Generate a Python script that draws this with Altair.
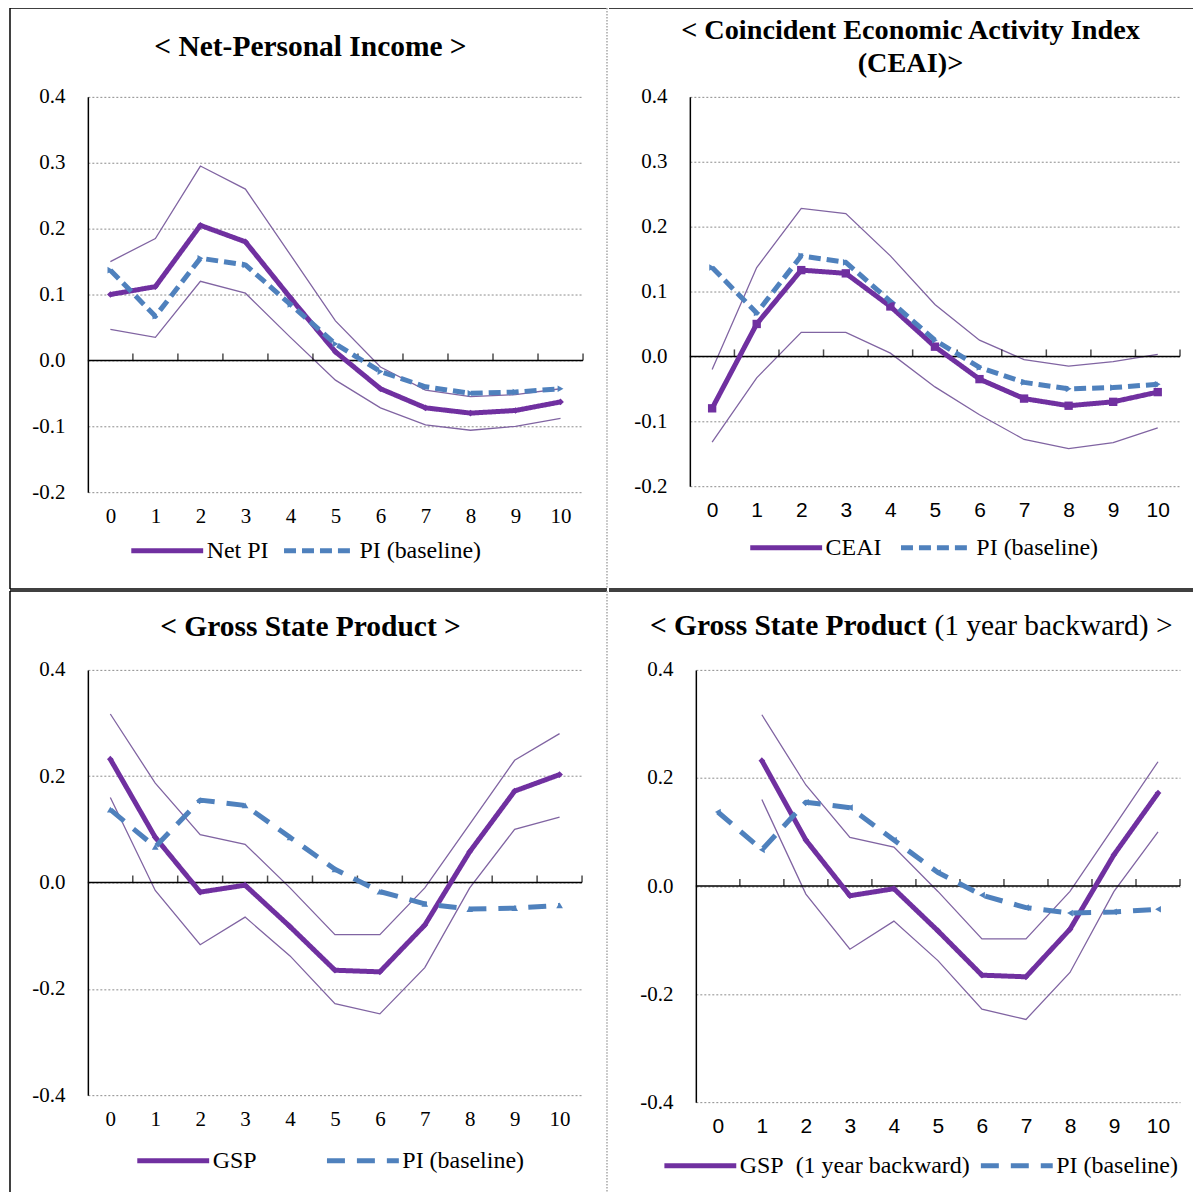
import altair as alt
import pandas as pd

# horizon after the shock
steps = list(range(11))
zero_ticks = [0.5, 1.5, 2.5, 3.5, 4.5, 5.5, 6.5, 7.5, 8.5, 9.5, 10.5]
ticks_small = [-0.2, -0.1, 0.0, 0.1, 0.2, 0.3, 0.4]
ticks_big = [-0.4, -0.2, 0.0, 0.2, 0.4]

# PI (baseline) response, same in every panel
pi_base = [0.137, 0.067, 0.155, 0.145, 0.085, 0.025, -0.017, -0.040, -0.050, -0.048, -0.043]

# Net-Personal Income
netpi = [0.100, 0.112, 0.205, 0.180, 0.095, 0.013, -0.043, -0.072, -0.080, -0.076, -0.063]
netpi_hi = [0.150, 0.185, 0.295, 0.260, 0.160, 0.060, -0.010, -0.045, -0.055, -0.052, -0.043]
netpi_lo = [0.047, 0.035, 0.120, 0.102, 0.035, -0.030, -0.072, -0.098, -0.106, -0.100, -0.088]

# Coincident Economic Activity Index
ceai = [-0.080, 0.050, 0.133, 0.128, 0.077, 0.015, -0.035, -0.065, -0.076, -0.070, -0.055]
ceai_hi = [-0.020, 0.137, 0.228, 0.220, 0.155, 0.080, 0.025, -0.005, -0.015, -0.008, 0.003]
ceai_lo = [-0.132, -0.033, 0.037, 0.037, 0.005, -0.047, -0.090, -0.128, -0.142, -0.133, -0.110]

# Gross State Product
gsp = [0.232, 0.085, -0.018, -0.005, -0.083, -0.165, -0.168, -0.080, 0.058, 0.172, 0.203]
gsp_hi = [0.317, 0.187, 0.090, 0.072, -0.010, -0.098, -0.098, -0.010, 0.110, 0.230, 0.280]
gsp_lo = [0.160, -0.015, -0.117, -0.065, -0.138, -0.228, -0.247, -0.160, -0.010, 0.100, 0.123]

# GSP moved one year back (starts at horizon 1)
back_steps = steps[1:]
gsp_back = gsp[:10]
gsp_back_hi = gsp_hi[:10]
gsp_back_lo = gsp_lo[:10]

PURPLE = "#7030A0"
BAND = "#8064A2"
BLUE = "#4F81BD"
SERIF = "Liberation Serif"
SANS = "Liberation Sans"
PI_NAME = "PI (baseline)"

one = pd.DataFrame({"k": [0]})


def hline(x1, x2, y, color="black", dash=None):
    kw = dict(color=color, strokeWidth=1.5)
    if dash:
        kw["strokeDash"] = dash
    return alt.Chart(one).mark_rule(**kw).encode(
        x=alt.value(x1), x2=alt.value(x2), y=alt.value(y))


def vline(x, y1, y2, color="black", dash=None):
    kw = dict(color=color, strokeWidth=1.5)
    if dash:
        kw["strokeDash"] = dash
    return alt.Chart(one).mark_rule(**kw).encode(
        x=alt.value(x), y=alt.value(y1), y2=alt.value(y2))


def label(text, x, y, align="center", bold=True, size=29.5):
    kw = dict(text=text, font=SERIF, fontSize=size, align=align, baseline="middle", color="black")
    if bold:
        kw["fontWeight"] = "bold"
    return alt.Chart(one).mark_text(**kw).encode(x=alt.value(x), y=alt.value(y))


def panel(x, mid, hi, lo, name, mid_shape, mid_size, pi_shape, dash,
          ylim, yvals, w, h, extra, tick_font, lx, ly, col_pad):
    X = alt.X("step:Q", scale=alt.Scale(domain=[-0.5, 10.5], nice=False, zero=False),
              axis=alt.Axis(values=steps, format="d", title=None, grid=False, domain=False,
                            ticks=False, labelFont=tick_font, labelFontSize=21,
                            labelColor="black", labelPadding=13, labelFlush=False))
    Y = alt.Y("value:Q", scale=alt.Scale(domain=ylim, nice=False, zero=False),
              axis=alt.Axis(values=yvals, title=None, grid=True, gridDash=[2, 2],
                            gridColor="#8c8c8c", gridWidth=1, domainColor="black",
                            domainWidth=1.5, ticks=False, labelFont=SERIF, labelFontSize=21,
                            labelColor="black", labelPadding=23,
                            labelExpr="(datum.value < 0 ? '-' : '') + format(abs(datum.value), '.1f')"))

    main = pd.DataFrame({"step": x, "value": mid, "series": name})
    base = pd.DataFrame({"step": steps, "value": pi_base, "series": PI_NAME})
    lines = pd.concat([main, base], ignore_index=True)
    band = pd.concat([
        pd.DataFrame({"step": x, "value": hi, "which": "hi"}),
        pd.DataFrame({"step": x, "value": lo, "which": "lo"}),
    ], ignore_index=True)

    # long flat symbol: path twice the unit width keeps the legend row short
    legend = alt.Legend(title=None, orient="none", legendX=lx, legendY=ly, direction="horizontal",
                        symbolType="M-2,0H2", symbolSize=1296, symbolStrokeWidth=5,
                        labelFont=SERIF, labelFontSize=24, labelColor="black", labelOffset=19,
                        labelLimit=400, columnPadding=col_pad, padding=0)

    bands = alt.Chart(band).mark_line(color=BAND, strokeWidth=1.3).encode(
        x=X, y=Y, detail="which:N")
    zero = alt.Chart(pd.DataFrame({"value": [0.0]})).mark_rule(
        color="black", strokeWidth=1.5).encode(y=Y)
    zticks = alt.Chart(pd.DataFrame({"step": zero_ticks, "value": 0.0})).mark_tick(
        orient="vertical", color="black", size=7, thickness=1.5, yOffset=-3.5).encode(x=X, y=Y)
    curves = alt.Chart(lines).mark_line(strokeWidth=5, strokeJoin="round").encode(
        x=X, y=Y,
        color=alt.Color("series:N", scale=alt.Scale(domain=[name, PI_NAME], range=[PURPLE, BLUE]),
                        legend=legend),
        strokeDash=alt.StrokeDash("series:N",
                                  scale=alt.Scale(domain=[name, PI_NAME], range=[[1, 0], dash]),
                                  legend=legend),
    )
    mid_pts = alt.Chart(main).mark_point(shape=mid_shape, filled=True, opacity=1,
                                         color=PURPLE, size=mid_size).encode(x=X, y=Y)
    pi_pts = alt.Chart(base).mark_point(shape=pi_shape, filled=True, opacity=1,
                                        color=BLUE, size=45).encode(x=X, y=Y)

    layers = [bands, zero, zticks, curves, mid_pts, pi_pts] + extra
    return alt.layer(*layers).properties(width=w, height=h)


DOT = [1.5, 1.5]
GRAY = "#a6a6a6"

# panel 1: Net-Personal Income
f1 = [hline(-78, 520, -89), vline(-78, -89, 493), vline(520, -89, 493, GRAY, DOT),
      hline(-78, 520, 493), label("< Net-Personal Income >", 223, -50)]
p1 = panel(steps, netpi, netpi_hi, netpi_lo, "Net PI", "diamond", 45, "triangle-right", [12, 6],
           [-0.2, 0.4], ticks_small, 496, 396, f1, SERIF, 59, 434, 5)

# panel 2: CEAI
f2 = [hline(-81, 504, -89), hline(-81, 504, 493),
      label("< Coincident Economic Activity Index", 221, -66, size=28.3),
      label("(CEAI)>", 221, -33, size=28.3)]
p2 = panel(steps, ceai, ceai_hi, ceai_lo, "CEAI", "square", 70, "triangle-right", [12, 6],
           [-0.2, 0.4], ticks_small, 491, 390, f2, SANS, 76, 431, 9)

# panel 3: Gross State Product
f3 = [hline(-78, 520, -79), vline(-78, -79, 523), vline(520, -79, 523, GRAY, DOT),
      label("< Gross State Product >", 223, -43)]
p3 = panel(steps, gsp, gsp_hi, gsp_lo, "GSP", "diamond", 45, "triangle-up", [18, 12],
           [-0.4, 0.4], ticks_big, 495, 426, f3, SERIF, 65, 471, 59)

# panel 4: GSP one year backward, title in two weights
f4 = [hline(-87, 498, -79),
      label("< Gross State Product", 231, -44, align="right"),
      label("(1 year backward) >", 239, -44, align="left", bold=False)]
p4 = panel(back_steps, gsp_back, gsp_back_hi, gsp_back_lo, "GSP\u00a0 (1 year backward)", "diamond", 45,
           "triangle-left", [18, 12], [-0.4, 0.4], ticks_big, 485, 433, f4, SANS, -16, 476, 0)

indep = dict(x="independent", y="independent", color="independent", strokeDash="independent")
row1 = alt.hconcat(p1, p2, spacing=0).resolve_scale(**indep).resolve_legend(
    color="independent", strokeDash="independent")
row2 = alt.hconcat(p3, p4, spacing=0).resolve_scale(**indep).resolve_legend(
    color="independent", strokeDash="independent")

chart = alt.vconcat(row1, row2, spacing=0).resolve_scale(**indep).resolve_legend(
    color="independent", strokeDash="independent"
).properties(
    padding={"left": 1, "top": -2, "right": 0, "bottom": 0}
).configure_view(strokeWidth=0)

chart.save("out.html", embed_options={"renderer": "svg", "actions": False})
